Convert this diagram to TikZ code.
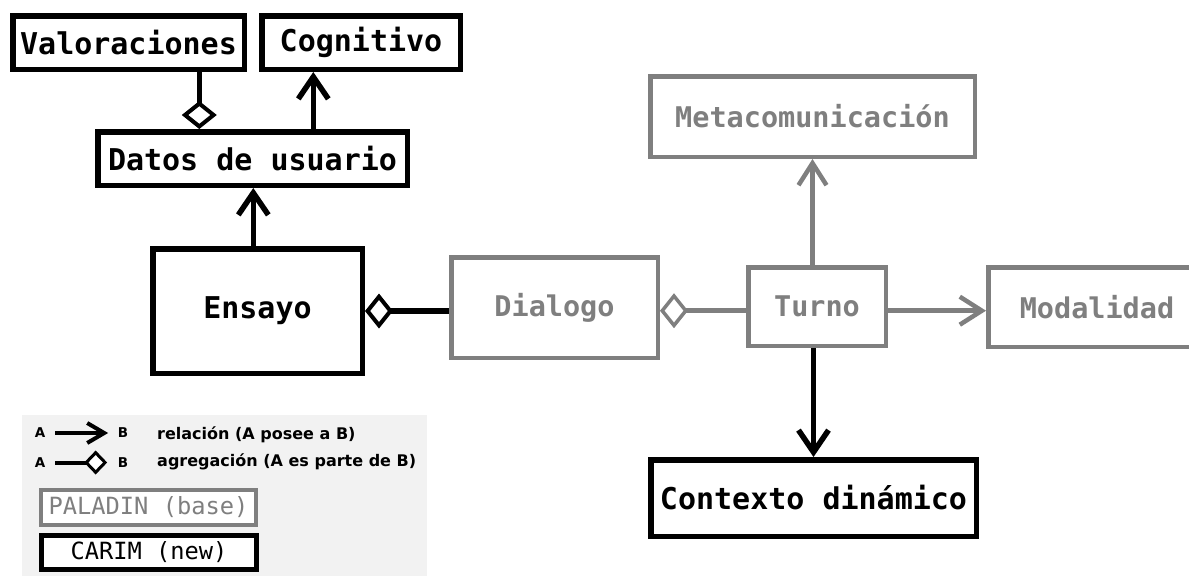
\documentclass[tikz,border=0pt]{standalone}
\usepackage{fontspec}
\setmonofont{DejaVu Sans Mono}
\newfontfamily\legfont{DejaVu Sans}
\usetikzlibrary{arrows.meta}
\definecolor{pgray}{HTML}{7F7F7F}
\definecolor{legbg}{HTML}{F2F2F2}
\begin{document}
\begin{tikzpicture}[x=1pt,y=-1pt,
  newbox/.style={draw=black, line width=5.5pt, fill=white, inner sep=0pt,
    font=\ttfamily\bfseries\fontsize{30}{36}\selectfont, text=black},
  basebox/.style={draw=pgray, line width=4.5pt, fill=white, inner sep=0pt,
    font=\ttfamily\bfseries\fontsize{28.5}{34}\selectfont, text=pgray},
  rel/.style={draw=black, line width=5.5pt, -{Straight Barb[length=22pt,width=30pt]}},
  relg/.style={draw=pgray, line width=4.5pt, -{Straight Barb[length=22pt,width=28pt]}},
  agg/.style={draw=black, line width=5.5pt, -{Diamond[length=28pt,width=35pt,line width=4pt,fill=white]}},
  aggg/.style={draw=pgray, line width=4.5pt, -{Diamond[length=28pt,width=35pt,line width=3.5pt,fill=white]}},
  legtxt/.style={inner sep=0pt, font=\legfont\bfseries\fontsize{16}{19}\selectfont, anchor=west},
  legab/.style={inner sep=0pt, font=\legfont\bfseries\fontsize{13.5}{15}\selectfont},
  legrel/.style={draw=black, line width=4pt, -{Straight Barb[length=17pt,width=20pt]}},
  legagg/.style={draw=black, line width=4pt, -{Diamond[length=23pt,width=24pt,line width=3pt,fill=white]}},
]
\useasboundingbox (0,0) rectangle (1189,576);
\clip (0,0) rectangle (1189,576);

% nodes
\node[newbox, minimum width=231.5pt, minimum height=53.5pt] (valor) at (128.5,42.5) {Valoraciones};
\node[newbox, minimum width=198.5pt, minimum height=53.5pt] (cogn) at (361,42.5) {Cognitivo};
\node[newbox, minimum width=309.5pt, minimum height=53.5pt] (datos) at (252.5,158.5) {Datos de usuario};
\node[newbox, minimum width=209.5pt, minimum height=124.5pt] (ensayo) at (257.5,311) {Ensayo};
\node[basebox, minimum width=206.5pt, minimum height=100.5pt] (dialogo) at (554.5,307.5) {Dialogo};
\node[basebox, minimum width=324.5pt, minimum height=80.5pt] (meta) at (812.5,116.5) {Metacomunicación};
\node[basebox, minimum width=137.5pt, minimum height=78.5pt] (turno) at (817,306.5) {Turno};
\node[basebox, minimum width=217.5pt, minimum height=79.5pt] (modal) at (1097,307) {Modalidad};
\node[newbox, minimum width=325.5pt, minimum height=76.5pt] (contexto) at (813.5,498) {Contexto dinámico};

% connectors
\coordinate (xv) at (199.3,0);
\coordinate (xc) at (313.3,0);
\coordinate (xe) at (253.3,0);
\coordinate (yt) at (0,310.7);
\draw[agg] (valor.south -| xv) -- (datos.north -| xv);
\draw[rel] (datos.north -| xc) -- (cogn.south -| xc);
\draw[rel] (ensayo.north -| xe) -- (datos.south -| xe);
\draw[agg] (dialogo.west |- ensayo.east) -- (ensayo.east);
\draw[aggg] (turno.west |- yt) -- (dialogo.east |- yt);
\draw[relg] (turno.north -| meta.south) -- (meta.south);
\draw[relg] (turno.east |- yt) -- (modal.west |- yt);
\draw[rel] (turno.south -| contexto.north) -- (contexto.north);

% legend
\node[fill=legbg, inner sep=0pt, minimum width=405pt, minimum height=161pt, anchor=north west] (legend) at (21.7,415) {};
\node[legab] (a1) at (40,433) {A};
\node[legab] (b1) at (123,433) {B};
\draw[legrel, shorten <=10pt, shorten >=9.5pt] (a1) -- (b1);
\node[legtxt] (t1) at (157,435) {relación (A posee a B)};
\node[legab] (a2) at (40,462.5) {A};
\node[legab] (b2) at (123,462.5) {B};
\draw[legagg, shorten <=10pt, shorten >=10.5pt] (a2) -- (b2);
\node[legtxt] (t2) at (157,461.7) {agregación (A es parte de B)};
\node[draw=pgray, line width=4pt, fill=white, inner sep=0pt, minimum width=215pt, minimum height=35pt,
  font=\ttfamily\fontsize{23.7}{28}\selectfont, text=pgray] (paladin) at (148.5,507.5) {PALADIN (base)};
\node[draw=black, line width=5pt, fill=white, inner sep=0pt, minimum width=215pt, minimum height=34pt,
  font=\ttfamily\fontsize{23.7}{28}\selectfont, text=black] (carim) at (149,552.5) {CARIM (new)};
\end{tikzpicture}
\end{document}
